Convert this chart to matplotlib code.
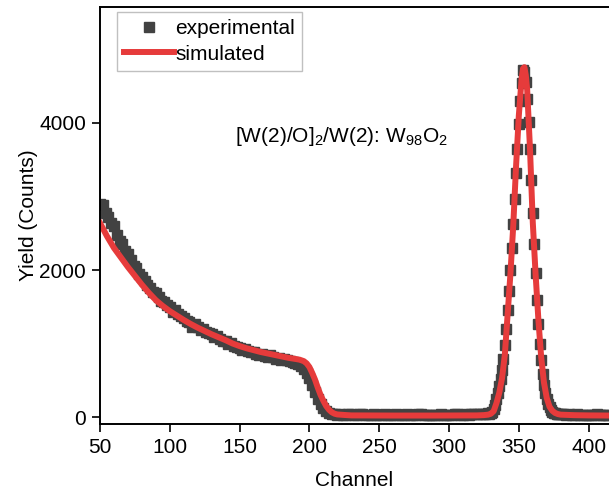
import numpy as np
import matplotlib
matplotlib.use("Agg")
import matplotlib.pyplot as plt

plt.rcParams['font.family'] = ['Liberation Sans', 'DejaVu Sans']
plt.rcParams['mathtext.fontset'] = 'custom'
plt.rcParams['mathtext.rm'] = 'Liberation Sans'
plt.rcParams['mathtext.it'] = 'Liberation Sans:italic'

# ================= DATA =================
# experimental spectrum
exp_channel = np.concatenate([np.arange(50, 329, 2), np.arange(329, 381), np.arange(382, 416, 2)])
exp_counts = [
    # 50 - 98
    2900, 2880, 2770, 2720, 2640, 2600, 2480, 2400, 2350, 2260, 2220, 2130, 2060,
    2030, 1940, 1900, 1850, 1790, 1760, 1700, 1690, 1630, 1580, 1560, 1520,
    # 100 - 148
    1500, 1430, 1450, 1400, 1370, 1350, 1310, 1290, 1220, 1260, 1230, 1190, 1200,
    1150, 1140, 1130, 1090, 1100, 1060, 1040, 1030, 990, 1010, 970, 950,
    # 150 - 198
    940, 910, 920, 900, 880, 890, 860, 840, 860, 830, 820, 840, 810,
    790, 800, 780, 790, 770, 760, 750, 740, 720, 700, 660, 600,
    # 200 - 248
    530, 440, 340, 250, 180, 120, 80, 55, 40, 35, 30, 38, 28,
    32, 40, 35, 26, 30, 42, 36, 30, 28, 34, 38, 30,
    # 250 - 298
    26, 32, 40, 34, 28, 30, 36, 32, 26, 30, 38, 34, 28,
    30, 36, 40, 32, 28, 34, 30, 26, 32, 38, 34, 30,
    # 300 - 328
    28, 34, 40, 36, 30, 32, 38, 34, 40, 36, 42, 38, 45, 40, 48,
    # 329 - 380
    40, 50, 70, 110, 170, 240, 330, 420, 520, 640, 790, 980, 1200,
    1450, 1720, 2000, 2300, 2620, 2960, 3320, 3650, 3990, 4300, 4550, 4720,
    4700, 4560, 4330, 4020, 3640, 3220, 2780, 2360, 1960, 1590, 1270, 1000,
    770, 590, 440, 330, 240, 180, 130, 100, 75, 60, 50, 45, 42, 40, 38,
    # 382 - 414
    36, 34, 38, 32, 30, 36, 34, 30, 28, 34, 32, 30, 36, 30, 28, 32, 30,
]

# simulated spectrum
sim_channel = [50, 55, 60, 65, 70, 75, 80, 85, 90, 95, 100, 105, 110, 115, 120, 125,
               130, 135, 140, 145, 150, 155, 160, 165, 170, 175, 180, 185, 190, 193,
               196, 198, 200, 202, 204, 206, 208, 210, 212, 214, 216, 218, 220, 225,
               230, 260, 290, 320, 325, 328, 330, 332, 334, 336, 338, 340, 342, 344,
               346, 348, 350, 352, 353, 354, 355, 356, 358, 360, 362, 364, 366, 368,
               370, 372, 374, 376, 378, 380, 390, 400, 415]
sim_counts = [2640, 2460, 2300, 2170, 2040, 1920, 1800, 1690, 1590, 1510, 1440, 1380,
              1320, 1265, 1215, 1170, 1125, 1085, 1045, 1000, 965, 935, 910, 885, 865,
              845, 825, 805, 790, 780, 760, 730, 680, 600, 510, 400, 300, 220, 150,
              100, 65, 45, 35, 28, 22, 20, 20, 22, 26, 32, 45, 80, 190, 330, 530, 850,
              1400, 1950, 2600, 3400, 4100, 4600, 4740, 4760, 4650, 4450, 3650, 2650,
              1950, 1330, 820, 470, 260, 140, 85, 55, 40, 32, 25, 22, 20]

label_text = "[W(2)/O]$_2$/W(2): W$_{98}$O$_2$"

# ================= PLOT =================
fig = plt.figure(figsize=(6.09, 4.96), dpi=100)
ax = fig.add_axes([100 / 609, 72 / 496, 509 / 609, 417 / 496])

ax.plot(exp_channel, exp_counts, linestyle='none', marker='s', markersize=6.8,
        color='#424242', label='experimental')
ax.plot(sim_channel, sim_counts, color='#e63b3b', linewidth=4.3, label='simulated')

ax.set_xlim(50, 414.6)
ax.set_ylim(-95, 5578)
ax.set_xticks([50, 100, 150, 200, 250, 300, 350, 400])
ax.set_yticks([0, 2000, 4000])

ax.spines['right'].set_visible(False)
for s in ['left', 'bottom', 'top']:
    ax.spines[s].set_linewidth(1.4)
ax.tick_params(direction='out', length=6, width=1.2, labelsize=15, pad=4)

ax.set_xlabel("Channel", fontsize=15, labelpad=10)
ax.set_ylabel("Yield (Counts)", fontsize=15, labelpad=1)

ax.text(223, 3810, label_text, fontsize=15, ha='center', va='center')

leg = ax.legend(loc='upper left', bbox_to_anchor=(0.033, 0.988), fontsize=15,
                numpoints=1, handlelength=2.4, handletextpad=0.05, borderpad=0.35,
                labelspacing=0.3, borderaxespad=0, fancybox=False, framealpha=1)
leg.get_frame().set_edgecolor('#c0c0c0')
leg.get_frame().set_linewidth(1.0)

fig.savefig("out.png", dpi=100)
